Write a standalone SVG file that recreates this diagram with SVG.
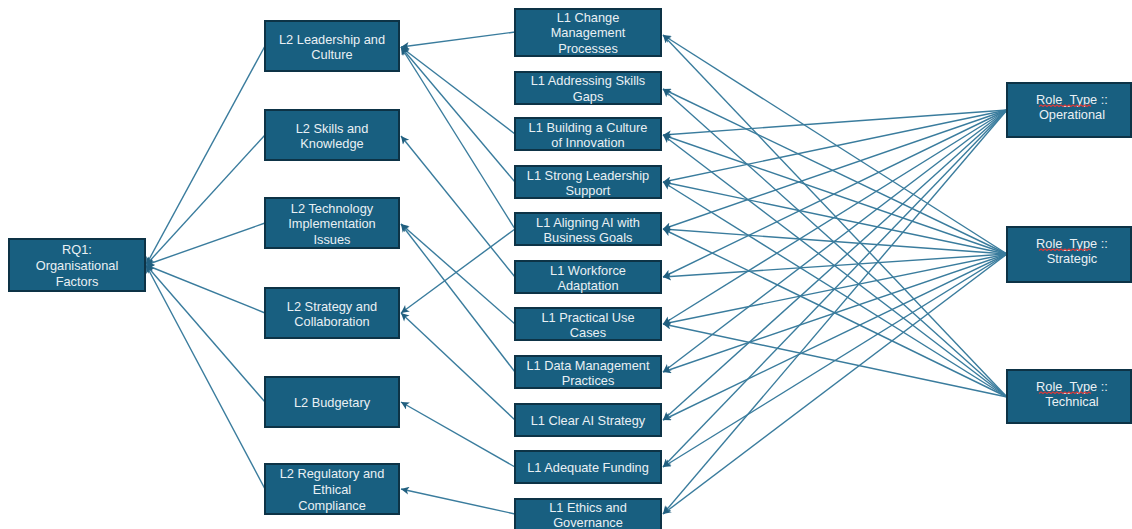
<svg xmlns="http://www.w3.org/2000/svg" width="1132" height="529" viewBox="0 0 1132 529">
  <style>
    .node rect { fill: #185f80; stroke: #0d3346; stroke-width: 2; }
    .node text { fill: #e9f0f4; font-family: "Liberation Sans", Arial, sans-serif; font-size: 12.8px; text-anchor: middle; dominant-baseline: central; }
    .edges line { stroke: #3a7c9d; stroke-width: 1.4; marker-end: url(#arrow); }
    .squiggle { fill: none; stroke: #d83a3a; stroke-width: 1.1; }
  </style>
  <defs>
    <marker id="arrow" viewBox="0 0 10 10" refX="10" refY="5" markerWidth="10" markerHeight="8" markerUnits="userSpaceOnUse" orient="auto">
      <path d="M0,0 L10,5 L0,10 L2.5,5 Z" fill="#215f7f"/>
    </marker>
  </defs>

  <!-- connectors -->
  <g id="connectors" class="edges">
    <!-- L2 themes to research question -->
    <line x1="265" y1="46" x2="146" y2="265"/>
    <line x1="265" y1="135" x2="146" y2="265"/>
    <line x1="265" y1="223" x2="146" y2="265"/>
    <line x1="265" y1="313" x2="146" y2="265"/>
    <line x1="265" y1="402" x2="146" y2="265"/>
    <line x1="265" y1="489" x2="146" y2="265"/>

    <!-- L1 codes to L2 themes -->
    <line x1="515" y1="32" x2="401" y2="47"/>
    <line x1="515" y1="134" x2="401" y2="47"/>
    <line x1="515" y1="182" x2="401" y2="47"/>
    <line x1="515" y1="229" x2="401" y2="47"/>
    <line x1="515" y1="277" x2="401" y2="136"/>
    <line x1="515" y1="324" x2="401" y2="224"/>
    <line x1="515" y1="372" x2="401" y2="224"/>
    <line x1="515" y1="229" x2="401" y2="313"/>
    <line x1="515" y1="420" x2="401" y2="313"/>
    <line x1="515" y1="467" x2="401" y2="402"/>
    <line x1="515" y1="514" x2="401" y2="489"/>

    <!-- role types to L1 codes: Operational -->
    <line x1="1007" y1="110" x2="663" y2="135"/>
    <line x1="1007" y1="110" x2="663" y2="182"/>
    <line x1="1007" y1="110" x2="663" y2="229"/>
    <line x1="1007" y1="110" x2="663" y2="277"/>
    <line x1="1007" y1="110" x2="663" y2="324"/>
    <line x1="1007" y1="110" x2="663" y2="372"/>
    <line x1="1007" y1="110" x2="663" y2="420"/>
    <line x1="1007" y1="110" x2="663" y2="467"/>
    <line x1="1007" y1="110" x2="663" y2="514"/>

    <!-- Strategic -->
    <line x1="1007" y1="254" x2="663" y2="35"/>
    <line x1="1007" y1="254" x2="663" y2="89"/>
    <line x1="1007" y1="254" x2="663" y2="135"/>
    <line x1="1007" y1="254" x2="663" y2="182"/>
    <line x1="1007" y1="254" x2="663" y2="229"/>
    <line x1="1007" y1="254" x2="663" y2="277"/>
    <line x1="1007" y1="254" x2="663" y2="324"/>
    <line x1="1007" y1="254" x2="663" y2="372"/>
    <line x1="1007" y1="254" x2="663" y2="420"/>
    <line x1="1007" y1="254" x2="663" y2="467"/>
    <line x1="1007" y1="254" x2="663" y2="514"/>

    <!-- Technical -->
    <line x1="1007" y1="397" x2="663" y2="35"/>
    <line x1="1007" y1="397" x2="663" y2="89"/>
    <line x1="1007" y1="397" x2="663" y2="135"/>
    <line x1="1007" y1="397" x2="663" y2="182"/>
    <line x1="1007" y1="397" x2="663" y2="229"/>
    <line x1="1007" y1="397" x2="663" y2="324"/>
  </g>

  <!-- research question -->
  <g id="rq1" class="node">
    <rect x="9" y="239" width="136" height="52"/>
    <text x="77" y="249">RQ1:</text>
    <text x="77" y="265">Organisational</text>
    <text x="77" y="281">Factors</text>
  </g>

  <!-- L2 themes -->
  <g id="l2-leadership" class="node">
    <rect x="265" y="21" width="134" height="50"/>
    <text x="332" y="39">L2 Leadership and</text>
    <text x="332" y="54">Culture</text>
  </g>
  <g id="l2-skills" class="node">
    <rect x="265" y="110" width="134" height="50"/>
    <text x="332" y="128">L2 Skills and</text>
    <text x="332" y="143">Knowledge</text>
  </g>
  <g id="l2-technology" class="node">
    <rect x="265" y="198" width="134" height="50"/>
    <text x="332" y="208">L2 Technology</text>
    <text x="332" y="223">Implementation</text>
    <text x="332" y="239">Issues</text>
  </g>
  <g id="l2-strategy" class="node">
    <rect x="265" y="288" width="134" height="50"/>
    <text x="332" y="306">L2 Strategy and</text>
    <text x="332" y="321">Collaboration</text>
  </g>
  <g id="l2-budgetary" class="node">
    <rect x="265" y="377" width="134" height="50"/>
    <text x="332" y="402">L2 Budgetary</text>
  </g>
  <g id="l2-regulatory" class="node">
    <rect x="265" y="464" width="134" height="50"/>
    <text x="332" y="473">L2 Regulatory and</text>
    <text x="332" y="489">Ethical</text>
    <text x="332" y="505">Compliance</text>
  </g>

  <!-- L1 codes -->
  <g id="l1-change" class="node">
    <rect x="515" y="9" width="146" height="47"/>
    <text x="588" y="17">L1 Change</text>
    <text x="588" y="32">Management</text>
    <text x="588" y="48">Processes</text>
  </g>
  <g id="l1-skills-gaps" class="node">
    <rect x="515" y="72" width="146" height="32"/>
    <text x="588" y="80">L1 Addressing Skills</text>
    <text x="588" y="96">Gaps</text>
  </g>
  <g id="l1-innovation" class="node">
    <rect x="515" y="118" width="146" height="32"/>
    <text x="588" y="127">L1 Building a Culture</text>
    <text x="588" y="142">of Innovation</text>
  </g>
  <g id="l1-leadership-support" class="node">
    <rect x="515" y="166" width="146" height="32"/>
    <text x="588" y="175">L1 Strong Leadership</text>
    <text x="588" y="190">Support</text>
  </g>
  <g id="l1-aligning" class="node">
    <rect x="515" y="213" width="146" height="32"/>
    <text x="588" y="222">L1 Aligning AI with</text>
    <text x="588" y="237">Business Goals</text>
  </g>
  <g id="l1-workforce" class="node">
    <rect x="515" y="261" width="146" height="32"/>
    <text x="588" y="270">L1 Workforce</text>
    <text x="588" y="285">Adaptation</text>
  </g>
  <g id="l1-use-cases" class="node">
    <rect x="515" y="308" width="146" height="32"/>
    <text x="588" y="317">L1 Practical Use</text>
    <text x="588" y="332">Cases</text>
  </g>
  <g id="l1-data" class="node">
    <rect x="515" y="356" width="146" height="32"/>
    <text x="588" y="365">L1 Data Management</text>
    <text x="588" y="380">Practices</text>
  </g>
  <g id="l1-ai-strategy" class="node">
    <rect x="515" y="404" width="146" height="32"/>
    <text x="588" y="420">L1 Clear AI Strategy</text>
  </g>
  <g id="l1-funding" class="node">
    <rect x="515" y="451" width="146" height="32"/>
    <text x="588" y="467">L1 Adequate Funding</text>
  </g>
  <g id="l1-ethics" class="node">
    <rect x="515" y="499" width="146" height="34"/>
    <text x="588" y="507">L1 Ethics and</text>
    <text x="588" y="522">Governance</text>
  </g>

  <!-- role types -->
  <g id="role-operational" class="node">
    <rect x="1007" y="83" width="124" height="54"/>
    <text x="1072" y="99">Role_Type ::</text>
    <text x="1072" y="114">Operational</text>
    <path class="squiggle" d="M1039,106.5 l2,-1.5 l2,1.5 l2,-1.5 l2,1.5 l2,-1.5 l2,1.5 l2,-1.5 l2,1.5 l2,-1.5 l2,1.5 l2,-1.5 l2,1.5 l2,-1.5 l2,1.5 l2,-1.5 l2,1.5 l2,-1.5 l2,1.5 l2,-1.5 l2,1.5 l2,-1.5 l2,1.5 l2,-1.5 l2,1.5 l2,-1.5 l2,1.5"/>
  </g>
  <g id="role-strategic" class="node">
    <rect x="1007" y="227" width="124" height="55"/>
    <text x="1072" y="243">Role_Type ::</text>
    <text x="1072" y="258">Strategic</text>
    <path class="squiggle" d="M1039,250.5 l2,-1.5 l2,1.5 l2,-1.5 l2,1.5 l2,-1.5 l2,1.5 l2,-1.5 l2,1.5 l2,-1.5 l2,1.5 l2,-1.5 l2,1.5 l2,-1.5 l2,1.5 l2,-1.5 l2,1.5 l2,-1.5 l2,1.5 l2,-1.5 l2,1.5 l2,-1.5 l2,1.5 l2,-1.5 l2,1.5 l2,-1.5 l2,1.5"/>
  </g>
  <g id="role-technical" class="node">
    <rect x="1007" y="370" width="124" height="53"/>
    <text x="1072" y="386">Role_Type ::</text>
    <text x="1072" y="401">Technical</text>
    <path class="squiggle" d="M1039,393.5 l2,-1.5 l2,1.5 l2,-1.5 l2,1.5 l2,-1.5 l2,1.5 l2,-1.5 l2,1.5 l2,-1.5 l2,1.5 l2,-1.5 l2,1.5 l2,-1.5 l2,1.5 l2,-1.5 l2,1.5 l2,-1.5 l2,1.5 l2,-1.5 l2,1.5 l2,-1.5 l2,1.5 l2,-1.5 l2,1.5 l2,-1.5 l2,1.5"/>
  </g>
</svg>
